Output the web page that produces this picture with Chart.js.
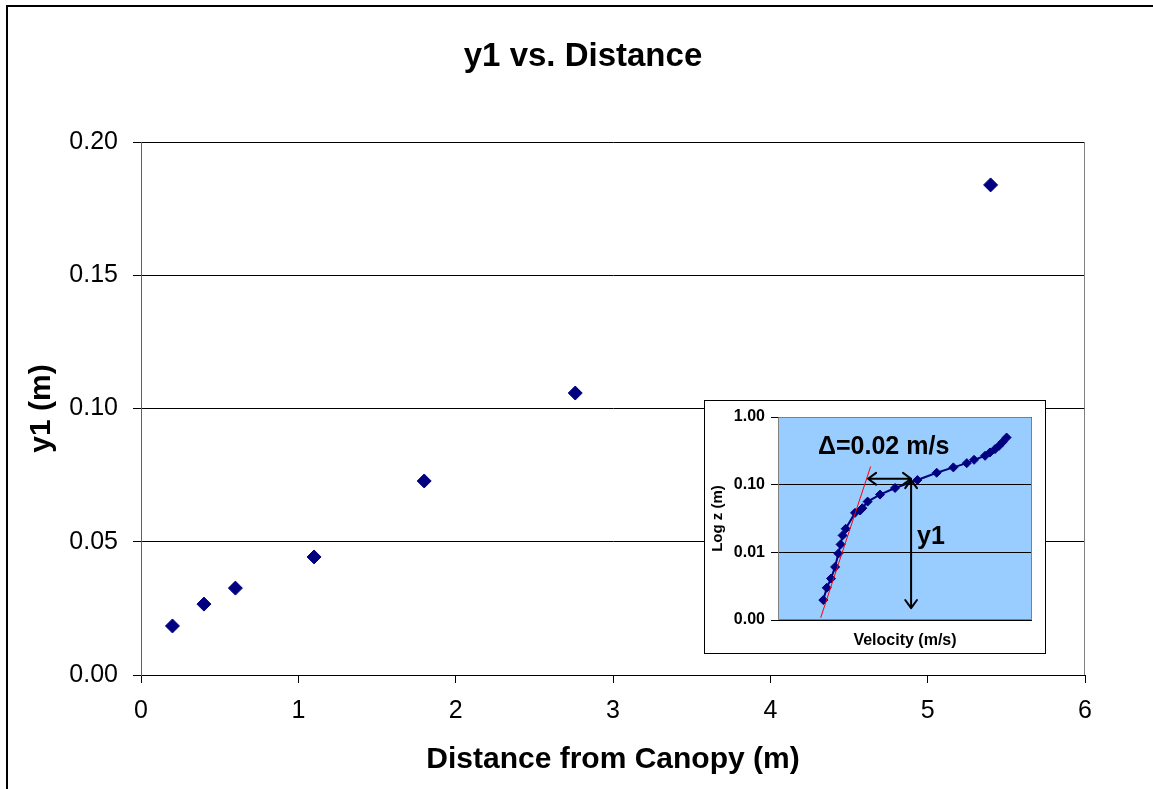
<!DOCTYPE html>
<html>
<head>
<meta charset="utf-8">
<title>y1 vs. Distance</title>
<script src="https://cdn.jsdelivr.net/npm/chart.js@4.4.1/dist/chart.umd.min.js"></script>
<style>
  html, body { margin: 0; padding: 0; background: #fff; }
  body { width: 1153px; height: 789px; position: relative; overflow: hidden; }
  #frame { position: absolute; left: 6px; top: 5px; width: 1200px; height: 850px; border: 2px solid #000; box-sizing: border-box; }
  #mainChart { position: absolute; left: 0; top: 0; }
  #insetWrap { position: absolute; left: 704px; top: 400px; width: 340px; height: 252px; border: 1px solid #000; background: #fff; }
  #insetChart { position: absolute; left: 0; top: 0; }
</style>
</head>
<body>
<div id="frame"></div>
<canvas id="mainChart" width="1153" height="789"></canvas>
<div id="insetWrap"><canvas id="insetChart" width="340" height="252"></canvas></div>
<script>
// main chart: y1 against distance from canopy
const distance = [0.2, 0.4, 0.6, 1.1, 1.8, 2.76, 5.4];
const y1Values = [0.0184, 0.0266, 0.0326, 0.0443, 0.0728, 0.1058, 0.1839];
const xTicks = [0, 1, 2, 3, 4, 5, 6];
const yTicks = [0, 0.05, 0.1, 0.15, 0.2];

// inset: velocity profile (log z)
const profileVelocity = [0.3223, 0.3240, 0.3261, 0.3281, 0.3297, 0.3308, 0.3318, 0.3333,
  0.3379, 0.3404, 0.3415, 0.3441, 0.3502, 0.3576, 0.3686, 0.3781, 0.3863, 0.3929,
  0.3965, 0.4019, 0.4043, 0.4068, 0.4088, 0.4106, 0.4125];
const profileZ = [0.00197, 0.00299, 0.0041, 0.00608, 0.0096, 0.0131, 0.0178, 0.0223,
  0.0383, 0.0415, 0.0449, 0.0562, 0.0713, 0.0893, 0.117, 0.150, 0.180, 0.208,
  0.233, 0.267, 0.299, 0.335, 0.375, 0.428, 0.497];
const fitVelocity = [0.3210, 0.3456];
const fitZ = [0.00108, 0.186];
const insetTicks = [0.001, 0.01, 0.1, 1];

// inset annotations (data coordinates)
const deltaArrowVel = [0.3443, 0.3655];
const deltaArrowZ = 0.1225;
const y1ArrowVel = 0.3655;
const y1ArrowZ = [0.117, 0.0015];
const deltaLabel = { text: "\u0394=0.02 m/s", vel: 0.3197, z: 0.286 };
const y1Label = { text: "y1", vel: 0.3684, z: 0.0131 };

const FONT = "'Liberation Sans', Arial, sans-serif";

// chart title, centred like the Excel original (not on the canvas middle)
const chartTitle = {
  id: "chartTitle",
  afterDraw(chart, args, opts) {
    const ctx = chart.ctx;
    ctx.save();
    ctx.fillStyle = "#000";
    ctx.font = "bold 33px " + FONT;
    ctx.textAlign = "center";
    ctx.textBaseline = "middle";
    ctx.fillText(opts.text, opts.x, opts.y);
    ctx.restore();
  },
};

// grey edge of the plot area
const plotEdge = {
  id: "plotEdge",
  beforeDatasetsDraw(chart, args, opts) {
    const { ctx, chartArea: a } = chart;
    ctx.save();
    ctx.strokeStyle = opts.color || "#808080";
    ctx.lineWidth = 1;
    ctx.beginPath();
    if (opts.full) {
      ctx.rect(a.left + 0.5, a.top + 0.5, a.right - a.left - 1, a.bottom - a.top - 1);
    } else {
      ctx.moveTo(a.right - 0.5, a.top);
      ctx.lineTo(a.right - 0.5, a.bottom);
    }
    ctx.stroke();
    ctx.restore();
  },
};

new Chart(document.getElementById("mainChart"), {
  type: "scatter",
  data: {
    datasets: [
      {
        data: distance.map((d, i) => ({ x: d, y: y1Values[i] })),
        pointStyle: "rectRot",
        pointRadius: 7,
        backgroundColor: "#000080",
        borderColor: "#000080",
        borderWidth: 1,
      },
    ],
  },
  options: {
    responsive: false,
    animation: false,
    events: [],
    layout: { padding: { left: 0, right: 68, top: 142, bottom: 0 } },
    plugins: {
      legend: { display: false },
      tooltip: { enabled: false },
      title: { display: false },
      chartTitle: { text: "y1 vs. Distance", x: 583, y: 57 },
      plotEdge: { color: "#808080" },
    },
    scales: {
      x: {
        type: "linear",
        min: 0,
        max: 6,
        afterBuildTicks: (s) => { s.ticks = xTicks.map((v) => ({ value: v })); },
        afterFit: (s) => { s.height = 114; },
        ticks: {
          color: "#000",
          font: { family: FONT, size: 25 },
          padding: 13,
          maxRotation: 0,
          callback: (v) => String(v),
        },
        grid: { drawOnChartArea: false, drawTicks: true, tickLength: 8, color: "#000" },
        border: { color: "#000", width: 1 },
        title: {
          display: true,
          text: "Distance from Canopy (m)",
          color: "#000",
          font: { family: FONT, size: 30, weight: "bold" },
          padding: { top: 0, bottom: 11 },
        },
      },
      y: {
        type: "linear",
        min: 0,
        max: 0.2,
        afterBuildTicks: (s) => { s.ticks = yTicks.map((v) => ({ value: v })); },
        afterFit: (s) => { s.width = 141; },
        ticks: {
          color: "#000",
          font: { family: FONT, size: 25 },
          padding: 15,
          callback: (v) => Number(v).toFixed(2),
        },
        grid: { drawTicks: true, tickLength: 8, color: "#000" },
        border: { color: "#606060", width: 1 },
        title: {
          display: true,
          text: "y1 (m)",
          color: "#000",
          font: { family: FONT, size: 30, weight: "bold" },
          padding: { top: 24, bottom: 0 },
        },
      },
    },
  },
  plugins: [plotEdge, chartTitle],
});

// blue plot background for the inset
const insetBackground = {
  id: "insetBackground",
  beforeDraw(chart) {
    const { ctx, chartArea: a } = chart;
    ctx.save();
    ctx.fillStyle = "#99CCFF";
    ctx.fillRect(a.left, a.top, a.right - a.left, a.bottom - a.top);
    ctx.restore();
  },
};

function drawArrow(ctx, x1, y1, x2, y2, both) {
  const head = 10;
  const spread = Math.PI / 5;
  const ang = Math.atan2(y2 - y1, x2 - x1);
  ctx.beginPath();
  ctx.moveTo(x1, y1);
  ctx.lineTo(x2, y2);
  ctx.moveTo(x2 - head * Math.cos(ang - spread), y2 - head * Math.sin(ang - spread));
  ctx.lineTo(x2, y2);
  ctx.lineTo(x2 - head * Math.cos(ang + spread), y2 - head * Math.sin(ang + spread));
  if (both) {
    ctx.moveTo(x1 + head * Math.cos(ang - spread), y1 + head * Math.sin(ang - spread));
    ctx.lineTo(x1, y1);
    ctx.lineTo(x1 + head * Math.cos(ang + spread), y1 + head * Math.sin(ang + spread));
  }
  ctx.stroke();
}

// arrows and labels inside the inset
const insetNotes = {
  id: "insetNotes",
  afterDatasetsDraw(chart) {
    const { ctx, scales: { x, y } } = chart;
    ctx.save();
    ctx.strokeStyle = "#000";
    ctx.lineWidth = 2;
    ctx.lineCap = "round";
    ctx.lineJoin = "round";
    const hy = y.getPixelForValue(deltaArrowZ);
    drawArrow(ctx, x.getPixelForValue(deltaArrowVel[0]), hy, x.getPixelForValue(deltaArrowVel[1]), hy, true);
    const vx = x.getPixelForValue(y1ArrowVel);
    drawArrow(ctx, vx, y.getPixelForValue(y1ArrowZ[0]), vx, y.getPixelForValue(y1ArrowZ[1]), true);

    ctx.fillStyle = "#000";
    ctx.textAlign = "left";
    ctx.textBaseline = "alphabetic";
    ctx.font = "bold 25px " + FONT;
    ctx.fillText(deltaLabel.text, x.getPixelForValue(deltaLabel.vel), y.getPixelForValue(deltaLabel.z));
    ctx.fillText(y1Label.text, x.getPixelForValue(y1Label.vel), y.getPixelForValue(y1Label.z));
    ctx.restore();
  },
};

new Chart(document.getElementById("insetChart"), {
  type: "scatter",
  data: {
    datasets: [
      {
        data: fitVelocity.map((v, i) => ({ x: v, y: fitZ[i] })),
        showLine: true,
        borderColor: "#FF0000",
        borderWidth: 1,
        pointRadius: 0,
        order: 0,
      },
      {
        data: profileVelocity.map((v, i) => ({ x: v, y: profileZ[i] })),
        showLine: true,
        borderColor: "#000080",
        borderWidth: 2,
        pointStyle: "rectRot",
        pointRadius: 4.5,
        pointBackgroundColor: "#000080",
        pointBorderColor: "#000080",
        pointBorderWidth: 1,
        order: 1,
      },
    ],
  },
  options: {
    responsive: false,
    animation: false,
    events: [],
    layout: { padding: { left: 0, right: 13, top: 16, bottom: 0 } },
    plugins: {
      legend: { display: false },
      tooltip: { enabled: false },
      plotEdge: { color: "#808080", full: true },
    },
    scales: {
      x: {
        type: "linear",
        min: 0.3,
        max: 0.425,
        afterFit: (s) => { s.height = 33; },
        ticks: { display: false },
        grid: { display: false },
        border: { display: false },
        title: {
          display: true,
          text: "Velocity (m/s)",
          color: "#000",
          font: { family: FONT, size: 16, weight: "bold" },
          padding: { top: 0, bottom: 3 },
        },
      },
      y: {
        type: "logarithmic",
        min: 0.001,
        max: 1,
        afterBuildTicks: (s) => { s.ticks = insetTicks.map((v) => ({ value: v })); },
        afterFit: (s) => { s.width = 73; },
        ticks: {
          color: "#000",
          font: { family: FONT, size: 16, weight: "bold" },
          padding: 6,
          callback: (v) => Number(v).toFixed(2),
        },
        grid: { drawTicks: true, tickLength: 7, color: "#000" },
        border: { display: false },
        title: {
          display: true,
          text: "Log z (m)",
          color: "#000",
          font: { family: FONT, size: 15, weight: "bold" },
          padding: { top: 4, bottom: 0 },
        },
      },
    },
  },
  plugins: [insetBackground, plotEdge, insetNotes],
});
</script>
</body>
</html>
